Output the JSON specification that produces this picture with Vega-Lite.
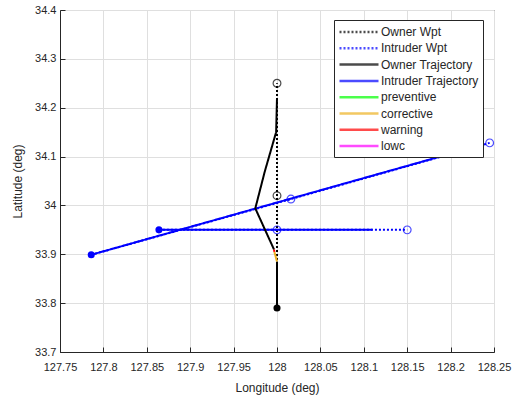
{
  "$schema": "https://vega.github.io/schema/vega-lite/v6.json",
  "width": 434,
  "height": 342,
  "autosize": {"type": "none"},
  "padding": {"left": 60, "top": 10, "right": 23, "bottom": 48},
  "background": "white",
  "config": {
    "font": "Liberation Sans",
    "view": {"stroke": "#262626", "strokeWidth": 1},
    "axis": {
      "gridColor": "#dfdfdf",
      "gridWidth": 1,
      "domainColor": "#262626",
      "tickColor": "#262626",
      "labelColor": "#262626",
      "titleColor": "#262626",
      "labelFontSize": 11,
      "titleFontSize": 12,
      "titleFontWeight": "normal",
      "tickSize": -5
    },
    "legend": {
      "title": null,
      "fillColor": "white",
      "strokeColor": "#262626",
      "padding": 4,
      "symbolType": "M-1,0H5",
      "symbolSize": 169,
      "symbolStrokeWidth": 2.5,
      "labelOffset": 27,
      "labelFontSize": 12,
      "labelColor": "#262626",
      "rowPadding": 2.3
    }
  },
  "datasets": {
    "paths": [
      {"series": "Owner Wpt", "seg": "ow", "ord": 0, "lon": 128.0, "lat": 33.79},
      {"series": "Owner Wpt", "seg": "ow", "ord": 1, "lon": 128.0, "lat": 34.02},
      {"series": "Owner Wpt", "seg": "ow", "ord": 2, "lon": 128.0, "lat": 34.25},
      {"series": "Intruder Wpt", "seg": "i1w", "ord": 0, "lon": 127.864, "lat": 33.95},
      {"series": "Intruder Wpt", "seg": "i1w", "ord": 1, "lon": 128.0, "lat": 33.95},
      {"series": "Intruder Wpt", "seg": "i1w", "ord": 2, "lon": 128.15, "lat": 33.95},
      {"series": "Intruder Wpt", "seg": "i2w", "ord": 0, "lon": 127.786, "lat": 33.899},
      {"series": "Intruder Wpt", "seg": "i2w", "ord": 1, "lon": 128.016, "lat": 34.013},
      {"series": "Intruder Wpt", "seg": "i2w", "ord": 2, "lon": 128.245, "lat": 34.128},
      {"series": "Intruder Trajectory", "seg": "i1t", "ord": 0, "lon": 127.864, "lat": 33.95},
      {"series": "Intruder Trajectory", "seg": "i1t", "ord": 1, "lon": 128.11, "lat": 33.95},
      {"series": "Intruder Trajectory", "seg": "i2t", "ord": 0, "lon": 127.786, "lat": 33.899},
      {"series": "Intruder Trajectory", "seg": "i2t", "ord": 1, "lon": 128.2, "lat": 34.106},
      {"series": "Owner Trajectory", "seg": "ot1", "ord": 0, "lon": 128.0, "lat": 33.79},
      {"series": "Owner Trajectory", "seg": "ot1", "ord": 1, "lon": 128.0, "lat": 33.885},
      {"series": "corrective", "seg": "oc", "ord": 0, "lon": 128.0, "lat": 33.885},
      {"series": "corrective", "seg": "oc", "ord": 1, "lon": 127.997, "lat": 33.905},
      {"series": "warning", "seg": "owr", "ord": 0, "lon": 127.997, "lat": 33.905},
      {"series": "warning", "seg": "owr", "ord": 1, "lon": 127.9965, "lat": 33.91},
      {"series": "Owner Trajectory", "seg": "ot2", "ord": 0, "lon": 127.9965, "lat": 33.91},
      {"series": "Owner Trajectory", "seg": "ot2", "ord": 1, "lon": 127.975, "lat": 33.994},
      {"series": "Owner Trajectory", "seg": "ot2", "ord": 2, "lon": 127.986, "lat": 34.07},
      {"series": "Owner Trajectory", "seg": "ot2", "ord": 3, "lon": 127.999, "lat": 34.15},
      {"series": "Owner Trajectory", "seg": "ot2", "ord": 4, "lon": 128.0, "lat": 34.22}
    ],
    "markers": [
      {"series": "Owner Wpt", "kind": "start", "lon": 128.0, "lat": 33.79},
      {"series": "Owner Wpt", "kind": "wpt", "lon": 128.0, "lat": 34.02},
      {"series": "Owner Wpt", "kind": "wpt", "lon": 128.0, "lat": 34.25},
      {"series": "Intruder Wpt", "kind": "start", "lon": 127.864, "lat": 33.95},
      {"series": "Intruder Wpt", "kind": "wpt", "lon": 128.0, "lat": 33.95},
      {"series": "Intruder Wpt", "kind": "wpt", "lon": 128.15, "lat": 33.95},
      {"series": "Intruder Wpt", "kind": "start", "lon": 127.786, "lat": 33.899},
      {"series": "Intruder Wpt", "kind": "wpt", "lon": 128.016, "lat": 34.013},
      {"series": "Intruder Wpt", "kind": "wpt", "lon": 128.245, "lat": 34.128}
    ]
  },
  "encoding": {
    "x": {
      "field": "lon", "type": "quantitative",
      "scale": {"domain": [127.75, 128.25], "nice": false, "zero": false},
      "axis": {
        "title": "Longitude (deg)",
        "values": [127.75, 127.8, 127.85, 127.9, 127.95, 128, 128.05, 128.1, 128.15, 128.2, 128.25],
        "format": "~g", "labelPadding": 14, "titlePadding": 10, "labelFlush": false, "labelOverlap": false
      }
    },
    "y": {
      "field": "lat", "type": "quantitative",
      "scale": {"domain": [33.7, 34.4], "nice": false, "zero": false},
      "axis": {
        "title": "Latitude (deg)",
        "values": [33.7, 33.8, 33.9, 34, 34.1, 34.2, 34.3, 34.4],
        "format": "~g", "labelPadding": 9, "titlePadding": 10, "labelFlush": false, "labelOverlap": false
      }
    },
    "color": {
      "field": "series", "type": "nominal",
      "scale": {
        "domain": ["Owner Wpt", "Intruder Wpt", "Owner Trajectory", "Intruder Trajectory", "preventive", "corrective", "warning", "lowc"],
        "range": ["#000000", "#0000ff", "#000000", "#0000ff", "#00ff00", "#edb120", "#ff0000", "#ff00ff"]
      },
      "legend": {"orient": "none", "legendX": 274, "legendY": 10}
    }
  },
  "layer": [
    {
      "data": {"name": "paths"},
      "transform": [{"filter": "datum.series === 'Owner Wpt' || datum.series === 'Intruder Wpt'"}],
      "mark": {"type": "line", "strokeWidth": 2, "clip": true},
      "encoding": {
        "detail": {"field": "seg"},
        "order": {"field": "ord", "type": "quantitative"},
        "strokeDash": {
          "field": "series", "type": "nominal",
          "scale": {
            "domain": ["Owner Wpt", "Intruder Wpt", "Owner Trajectory", "Intruder Trajectory", "preventive", "corrective", "warning", "lowc"],
            "range": [[2, 2], [2, 2], [1, 0], [1, 0], [1, 0], [1, 0], [1, 0], [1, 0]]
          },
          "legend": {"orient": "none", "legendX": 274, "legendY": 10}
        }
      }
    },
    {
      "data": {"name": "paths"},
      "transform": [{"filter": "datum.series !== 'Owner Wpt' && datum.series !== 'Intruder Wpt'"}],
      "mark": {"type": "line", "strokeWidth": 2, "clip": true},
      "encoding": {
        "detail": {"field": "seg"},
        "order": {"field": "ord", "type": "quantitative"},
        "strokeDash": {"field": "series", "type": "nominal", "legend": {"orient": "none", "legendX": 274, "legendY": 10}}
      }
    },
    {
      "data": {"name": "markers"},
      "transform": [{"filter": "datum.kind === 'wpt'"}],
      "mark": {"type": "point", "shape": "circle", "filled": false, "size": 60, "strokeWidth": 1.2}
    },
    {
      "data": {"name": "markers"},
      "transform": [{"filter": "datum.kind === 'start'"}],
      "mark": {"type": "point", "shape": "circle", "filled": true, "size": 50, "opacity": 1}
    }
  ]
}
